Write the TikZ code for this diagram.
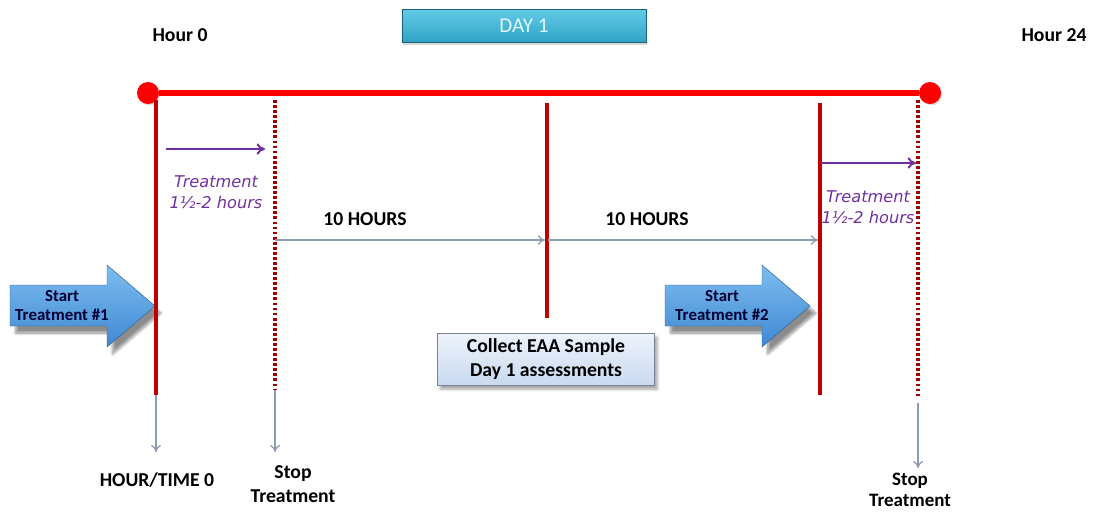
\documentclass[tikz,border=0pt]{standalone}
\usepackage{fontspec}
\setmainfont{Carlito}
\newfontfamily\verdfont{DejaVu Sans}
\usepackage{tikz}
\usetikzlibrary{calc,shadows,shadows.blur,arrows.meta}
\usepackage{xcolor}
\definecolor{tlred}{HTML}{FF0000}
\definecolor{hourred}{HTML}{C00000}
\definecolor{dotred}{HTML}{A00000}
\definecolor{greyblue}{HTML}{8C9CB4}
\definecolor{trtviolet}{HTML}{7030A0}
\definecolor{daytop}{HTML}{62CBE6}
\definecolor{daybot}{HTML}{2FA3C6}
\definecolor{arrowtop}{HTML}{7DBDF0}
\definecolor{arrowbot}{HTML}{3F88D2}
\definecolor{sampletop}{HTML}{EEF3FB}
\definecolor{samplebot}{HTML}{C9D9F0}

\begin{document}
\begin{tikzpicture}[x=0.025cm,y=-0.025cm,
		timeline/.style={line width=4.6pt,tlred},
		hourline/.style={line width=2.2pt,hourred},
		stopline/.style={line width=2.2pt,dotred,dash pattern=on 2pt off 1.6pt},
		spanarrow/.style={-{To[length=5pt,width=7pt]},greyblue,line width=0.9pt},
		trtarrow/.style={-{To[length=6pt,width=8pt]},trtviolet,line width=1.4pt},
		enddot/.style={circle,fill=tlred,minimum size=0.55cm,inner sep=0pt,
			drop shadow={shadow xshift=1pt,shadow yshift=-1pt,opacity=0.25}},
		startarrow/.style={top color=arrowtop,bottom color=arrowbot,draw=arrowbot!70!black,line width=0.3pt,
			blur shadow={shadow xshift=4pt,shadow yshift=-5pt,shadow blur steps=10,shadow opacity=45}}]
		\tikzstyle{every node}=[font=\fontsize{14}{17}\selectfont\bfseries,align=center]
		\tikzstyle{trtlabel}=[font=\verdfont\itshape\fontsize{11.5}{15}\selectfont,text=trtviolet]
		\tikzstyle{arrowlabel}=[font=\fontsize{12}{13.5}\selectfont\bfseries,text=black!80!blue]
		\useasboundingbox (0,0) rectangle (1095,515);

		\node (hour0) at (180,35) {Hour 0};
		\node (hour24) at (1054,35) {Hour 24};
		\node[minimum width=6.1cm,minimum height=0.825cm,top color=daytop,bottom color=daybot,
			draw=daybot!60!black,line width=0.4pt,font=\fontsize{15}{17}\selectfont,text=white!88!cyan,
			drop shadow={shadow xshift=1pt,shadow yshift=-2pt,opacity=0.3}] (day) at (524,26) {DAY 1};

		\node[enddot] (start) at (148,93) {};
		\node[enddot] (end) at (930,93) {};
		\draw[timeline] (start) -- (end);

		\coordinate (t0top) at (156,100);
		\coordinate (t0bot) at (156,395);
		\coordinate (t0arr) at (156,452);
		\coordinate (s1top) at (275,100);
		\coordinate (s1bot) at (275,390);
		\coordinate (s1arr) at (275,452);
		\coordinate (midtop) at (547,103);
		\coordinate (midbot) at (547,318);
		\coordinate (t2top) at (820,103);
		\coordinate (t2bot) at (820,395);
		\coordinate (s2top) at (918,100);
		\coordinate (s2bot) at (918,397);
		\coordinate (s2gap) at (918,403);
		\coordinate (s2arr) at (918,468);

		\path[startarrow] (10,285) -- (107,285) -- (107,265) -- (155,306) -- (107,347) -- (107,326) -- (10,326) -- cycle;
		\path[startarrow] (665,285) -- (762,285) -- (762,265) -- (810,306) -- (762,347) -- (762,326) -- (665,326) -- cycle;
		\node[arrowlabel] (trt1start) at (62,306) {Start\\Treatment \#1};
		\node[arrowlabel] (trt2start) at (722,306) {Start\\Treatment \#2};

		\draw[hourline] (t0top) -- (t0bot);
		\draw[stopline] (s1top) -- (s1bot);
		\draw[hourline] (midtop) -- (midbot);
		\draw[hourline] (t2top) -- (t2bot);
		\draw[stopline] (s2top) -- (s2bot);
		\draw[spanarrow] (t0bot) -- (t0arr);
		\draw[spanarrow] (s1bot) -- (s1arr);
		\draw[spanarrow] (s2gap) -- (s2arr);

		\coordinate (p1a) at (166,149);
		\coordinate (p1b) at (265,149);
		\coordinate (p2a) at (821,163);
		\coordinate (p2b) at (916,163);
		\draw[trtarrow] (p1a) -- (p1b);
		\draw[trtarrow] (p2a) -- (p2b);
		\node[trtlabel] (trt1) at (216,192) {Treatment\\1½-2 hours};
		\node[trtlabel] (trt2) at (868,207) {Treatment\\1½-2 hours};

		\coordinate (g1a) at (275,240);
		\coordinate (g1b) at (545,240);
		\coordinate (g2a) at (548,240);
		\coordinate (g2b) at (818,240);
		\draw[spanarrow] (g1a) -- (g1b);
		\draw[spanarrow] (g2a) -- (g2b);
		\node (tenh1) at (365,219) {10 HOURS};
		\node (tenh2) at (647,219) {10 HOURS};

		\node[minimum width=5.425cm,minimum height=1.3cm,top color=sampletop,bottom color=samplebot,
			draw=samplebot!60!black,line width=0.4pt,
			blur shadow={shadow xshift=2pt,shadow yshift=-3pt,shadow blur steps=6,shadow opacity=35}] (sample) at (546,359)
			{Collect EAA Sample\\Day 1 assessments};

		\node (time0) at (157,480) {HOUR/TIME 0};
		\node (stop1) at (293,484) {Stop\\Treatment};
		\node[font=\fontsize{13.5}{15}\selectfont\bfseries] (stop2) at (910,490) {Stop\\Treatment};
\end{tikzpicture}
\end{document}
